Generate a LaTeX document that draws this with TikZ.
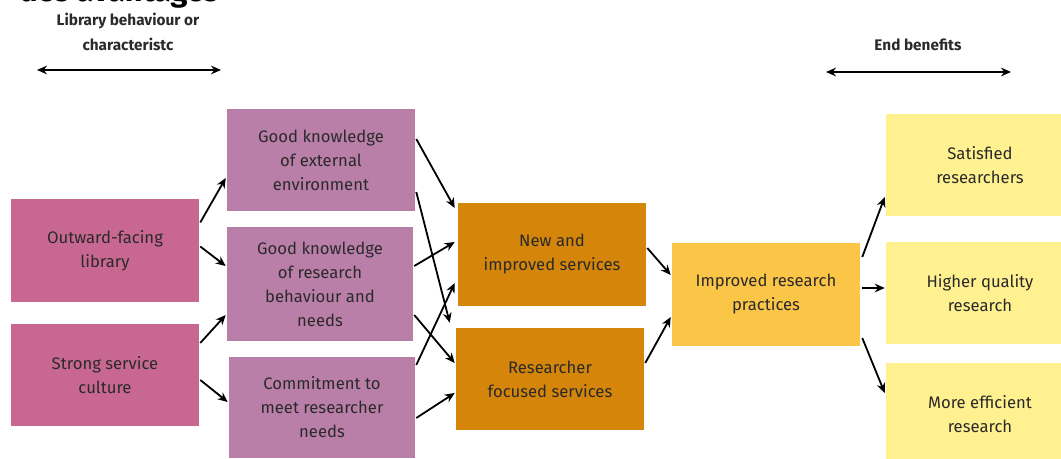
\documentclass[tikz,border=0pt]{standalone}
\usepackage{fontspec}
\setmainfont{Fira Sans}
\usetikzlibrary{arrows.meta,calc}
\definecolor{pinkA}{HTML}{C86892}
\definecolor{mauve}{HTML}{BA7FA8}
\definecolor{orangeD}{HTML}{D5860A}
\definecolor{orangeL}{HTML}{FBC547}
\definecolor{yellowL}{HTML}{FFF18F}
\definecolor{txt}{HTML}{2A2A2A}
\tikzset{
  box/.style={rectangle, inner sep=0pt, align=center, text=txt,
    minimum width=141pt, minimum height=77pt,
    font=\fontsize{12.5}{18}\selectfont},
  conn/.style={-{Stealth[length=7.5pt,width=6.5pt]}, line width=1.35pt, black},
  span/.style={{Stealth[length=7.5pt,width=6.5pt]}-{Stealth[length=7.5pt,width=6.5pt]}, line width=1.3pt, black},
  hdr/.style={align=center, text=txt, font=\bfseries\fontsize{11.5}{19}\selectfont},
}
\begin{document}
\begin{tikzpicture}[x=0.75pt,y=-0.75pt]
\useasboundingbox (0,0) rectangle (1061,459);
% clipped title fragment
\node[anchor=base west, inner sep=0pt, font=\bfseries\fontsize{23}{26}\selectfont] (title) at (19,2) {des avantages};
% headers
\node[hdr] (hleft) at (128,32) {Library behaviour or\\characteristc};
\coordinate (la) at (37,70);
\coordinate (lb) at (221,70);
\draw[span] (la) -- (lb);
\node[hdr] (hright) at (918,45) {End benefits};
\coordinate (ra) at (826,72);
\coordinate (rb) at (1011,72);
\draw[span] (ra) -- (rb);
% boxes
\node[box, fill=pinkA] (out) at (105,250.5) {Outward-facing\\library};
\node[box, fill=pinkA, minimum height=76.5pt] (strong) at (105,375) {Strong service\\culture};
\node[box, fill=mauve, minimum height=76.5pt] (gke) at (321,160) {Good knowledge\\of external\\environment};
\node[box, fill=mauve, minimum width=139.5pt, minimum height=85.5pt] (gkr) at (320,284) {Good knowledge\\of research\\behaviour and\\needs};
\node[box, fill=mauve, minimum width=139.5pt, minimum height=75.75pt] (com) at (322,407.5) {Commitment to\\meet researcher\\needs};
\node[box, fill=orangeD] (new) at (552,254.5) {New and\\improved services};
\node[box, fill=orangeD, minimum height=76.5pt] (rfs) at (550,379) {Researcher\\focused services};
\node[box, fill=orangeL] (irp) at (766,294.5) {Improved research\\practices};
\node[box, fill=yellowL, minimum height=76.5pt] (sat) at (980,165) {Satisfied\\researchers};
\node[box, fill=yellowL, minimum height=76.5pt] (hq) at (980,293) {Higher quality\\research};
\node[box, fill=yellowL, minimum height=76.5pt] (me) at (980,414) {More efficient\\research};
% connectors
\draw[conn] ($(out.east)+(1,-28)$) -- ($(gke.west)+(-1,18)$);
\draw[conn] ($(out.east)+(1,-4)$) -- ($(gkr.west)+(-1,-18)$);
\draw[conn] ($(strong.east)+(1,-32)$) -- ($(gkr.west)+(-1,31)$);
\draw[conn] ($(strong.east)+(1,5)$) -- ($(com.west)+(-1,-5.5)$);
\draw[conn] ($(gke.east)+(1,-21)$) -- ($(new.west)+(-3,-46.5)$);
\draw[conn] ($(gke.east)+(1,32)$) -- ($(rfs.north west)+(-6,-5)$);
\draw[conn] ($(gkr.east)+(1,-18)$) -- ($(new.west)+(-3,-12.5)$);
\draw[conn] ($(gkr.east)+(1,31)$) -- ($(rfs.west)+(-1,-16)$);
\draw[conn] ($(com.east)+(1,-42.5)$) -- ($(new.west)+(-3,28.5)$);
\draw[conn] ($(com.east)+(1,10.5)$) -- ($(rfs.west)+(-1,14)$);
\draw[conn] ($(new.east)+(1,-6.5)$) -- ($(irp.west)+(-1,-19.5)$);
\draw[conn] ($(rfs.east)+(1,-16)$) -- ($(irp.west)+(-1,22.5)$);
\draw[conn] ($(irp.east)+(2,-37.5)$) -- ($(sat.west)+(-1,32)$);
\draw[conn] ($(irp.east)+(2,-6.5)$) -- ($(hq.west)+(-1,-5)$);
\draw[conn] ($(irp.east)+(2,43.5)$) -- ($(me.west)+(-1,-21)$);
\end{tikzpicture}
\end{document}
